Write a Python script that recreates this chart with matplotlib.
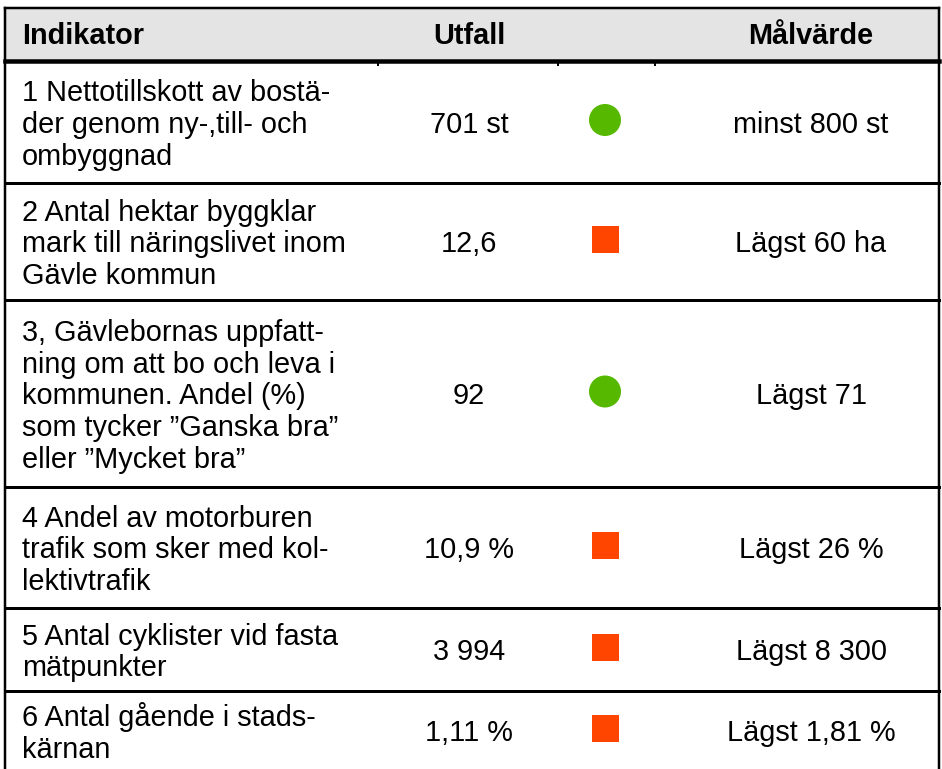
import numpy as np
import matplotlib.pyplot as plt
from matplotlib.patches import Rectangle

plt.rcParams['font.family'] = ['Liberation Sans', 'DejaVu Sans']

# table content
headers = ['Indikator', 'Utfall', 'Målvärde']
indikatorer = [
    '1 Nettotillskott av bostä-\nder genom ny-,till- och\nombyggnad',
    '2 Antal hektar byggklar\nmark till näringslivet inom\nGävle kommun',
    '3, Gävlebornas uppfatt-\nning om att bo och leva i\nkommunen. Andel (%)\nsom tycker \u201dGanska bra\u201d\neller \u201dMycket bra\u201d',
    '4 Andel av motorburen\ntrafik som sker med kol-\nlektivtrafik',
    '5 Antal cyklister vid fasta\nmätpunkter',
    '6 Antal gående i stads-\nkärnan',
]
utfall = ['701 st', '12,6', '92', '10,9 %', '3 994', '1,11 %']
status = ['ok', 'fail', 'ok', 'fail', 'fail', 'fail']
malvarde = ['minst 800 st', 'Lägst 60 ha', 'Lägst 71', 'Lägst 26 %', 'Lägst 8 300', 'Lägst 1,81 %']

# layout (pixels)
W, H = 942, 769
left, right = 5, 939
top, head_bot = 8, 61
row_edges = [61, 183, 300, 487, 608, 691, 769]
x_ind, x_utf, x_mark, x_mal = 22, 469, 605, 811
col_ticks = [378, 558, 655]
fs = 20.8

fig = plt.figure(figsize=(W / 100, H / 100), dpi=100)
ax = fig.add_axes([0, 0, 1, 1])
ax.set_xlim(0, W)
ax.set_ylim(H, 0)
ax.axis('off')

px = 0.72  # one pixel in points

# header
ax.add_patch(Rectangle((left, top), right - left, head_bot - top, facecolor='#e4e4e4', edgecolor='none'))
ax.plot([left, right], [top, top], color='black', lw=2.5 * px, solid_capstyle='projecting')
ax.plot([left, right], [head_bot, head_bot], color='black', lw=4.5 * px)
hy = (top + head_bot) / 2 + 1
ax.text(x_ind, hy, headers[0], fontsize=fs, fontweight='bold', ha='left', va='center')
ax.text(x_utf, hy, headers[1], fontsize=fs, fontweight='bold', ha='center', va='center')
ax.text(x_mal, hy, headers[2], fontsize=fs, fontweight='bold', ha='center', va='center')

# little column tick marks under the header
for cx in col_ticks:
    ax.plot([cx, cx], [head_bot, head_bot + 4], color='black', lw=2 * px)

# outer verticals
ax.plot([left, left], [top, H], color='black', lw=2.5 * px)
ax.plot([right, right], [top, H], color='black', lw=2.5 * px)

# rows
for i in range(len(indikatorer)):
    y0, y1 = row_edges[i], row_edges[i + 1]
    yc = (y0 + y1) / 2 + 3
    if i > 0:
        ax.plot([left, right], [y0, y0], color='black', lw=3 * px)
    ax.text(x_ind, yc, indikatorer[i], fontsize=fs, ha='left', va='center', linespacing=1.17)
    ax.text(x_utf, yc, utfall[i], fontsize=fs, ha='center', va='center')
    ax.text(x_mal, yc, malvarde[i], fontsize=fs, ha='center', va='center')
    if status[i] == 'ok':
        ax.scatter([x_mark], [yc - 5], s=(32 * px) ** 2, marker='o', color='#56b900', edgecolors='none')
    else:
        ax.scatter([x_mark], [yc - 5], s=(27 * px) ** 2, marker='s', color='#ff4500', edgecolors='none')

fig.savefig('out.png', dpi=100)
